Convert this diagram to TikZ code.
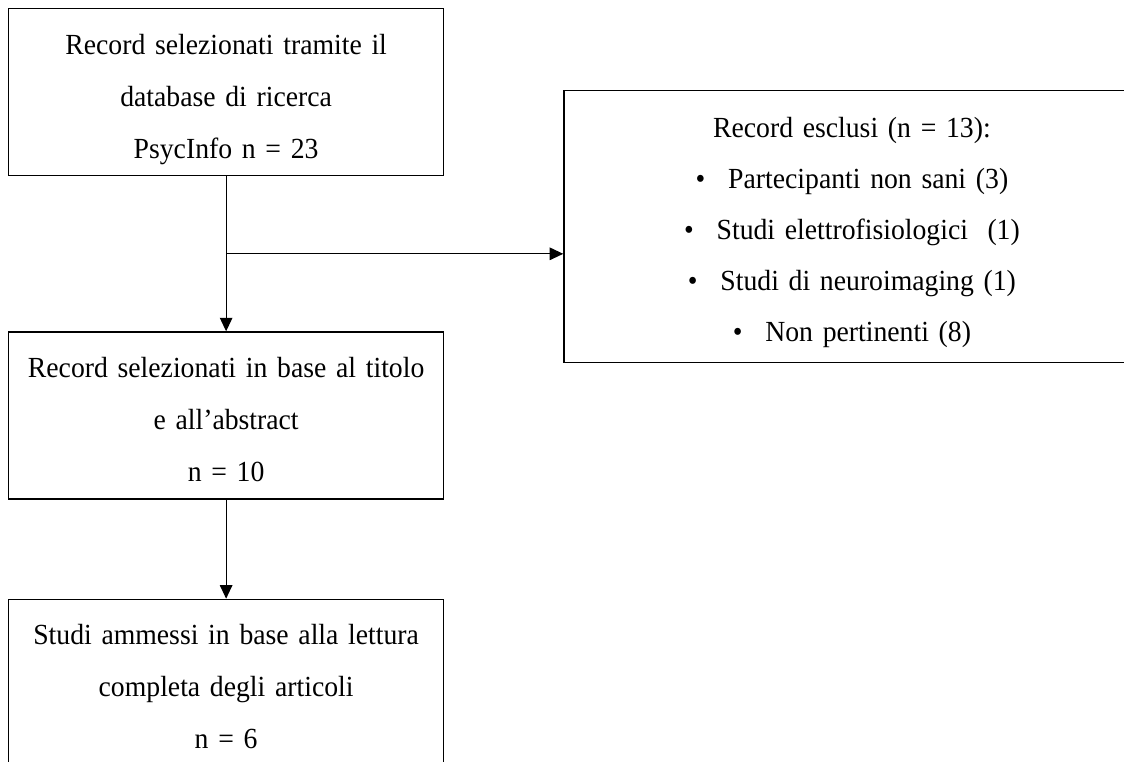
\documentclass[tikz,border=0pt]{standalone}
\usepackage{fontspec}
\setmainfont[FakeStretch=0.95]{Liberation Serif}
\usetikzlibrary{arrows.meta, positioning}
\tikzstyle{record} = [rectangle, draw=black, line width=0.6pt, minimum width=208.8pt, text width=208pt, align=center, inner xsep=0pt, inner ysep=0pt, text height=21.8pt, text depth=58.4pt]
\tikzstyle{excluded} = [rectangle, draw=black, line width=0.6pt, minimum width=276.5pt, text width=270pt, align=center, inner xsep=0pt, inner ysep=0pt, text height=22.6pt, text depth=108pt]
\tikzstyle{arrow} = [line width=0.6pt, -{Triangle[length=6.5pt, width=6pt]}]

\begin{document}
\begin{tikzpicture}[font=\fontsize{14pt}{25pt}\selectfont]
\useasboundingbox (0,0) rectangle (539.52pt,-365.76pt);

\node (search) [record, anchor=north west] at (3.84pt,-3.84pt) {Record selezionati tramite il\\ database di ricerca\\ PsycInfo n = 23};

\node (screen) [record, below=74.4pt of search] {Record selezionati in base al titolo\\ e all’abstract\\ n = 10};

\node (included) [record, below=47.52pt of screen] {Studi ammessi in base alla lettura\\ completa degli articoli\\ n = 6};

\node (excluded) [excluded, below right=39.36pt and 57.12pt of search.north east, font=\fontsize{14pt}{24.5pt}\selectfont] {Record esclusi (n = 13):\\ \textbullet\hspace{11pt}Partecipanti non sani (3)\\ \textbullet\hspace{11pt}Studi elettrofisiologici~ (1)\\ \textbullet\hspace{11pt}Studi di neuroimaging (1)\\ \textbullet\hspace{11pt}Non pertinenti (8)};

\draw [arrow] (search) -- coordinate[pos=0.5](split) (screen);
\draw [arrow] (split) -- (split -| excluded.west);
\draw [arrow] (screen) -- (included);
\end{tikzpicture}
\end{document}
